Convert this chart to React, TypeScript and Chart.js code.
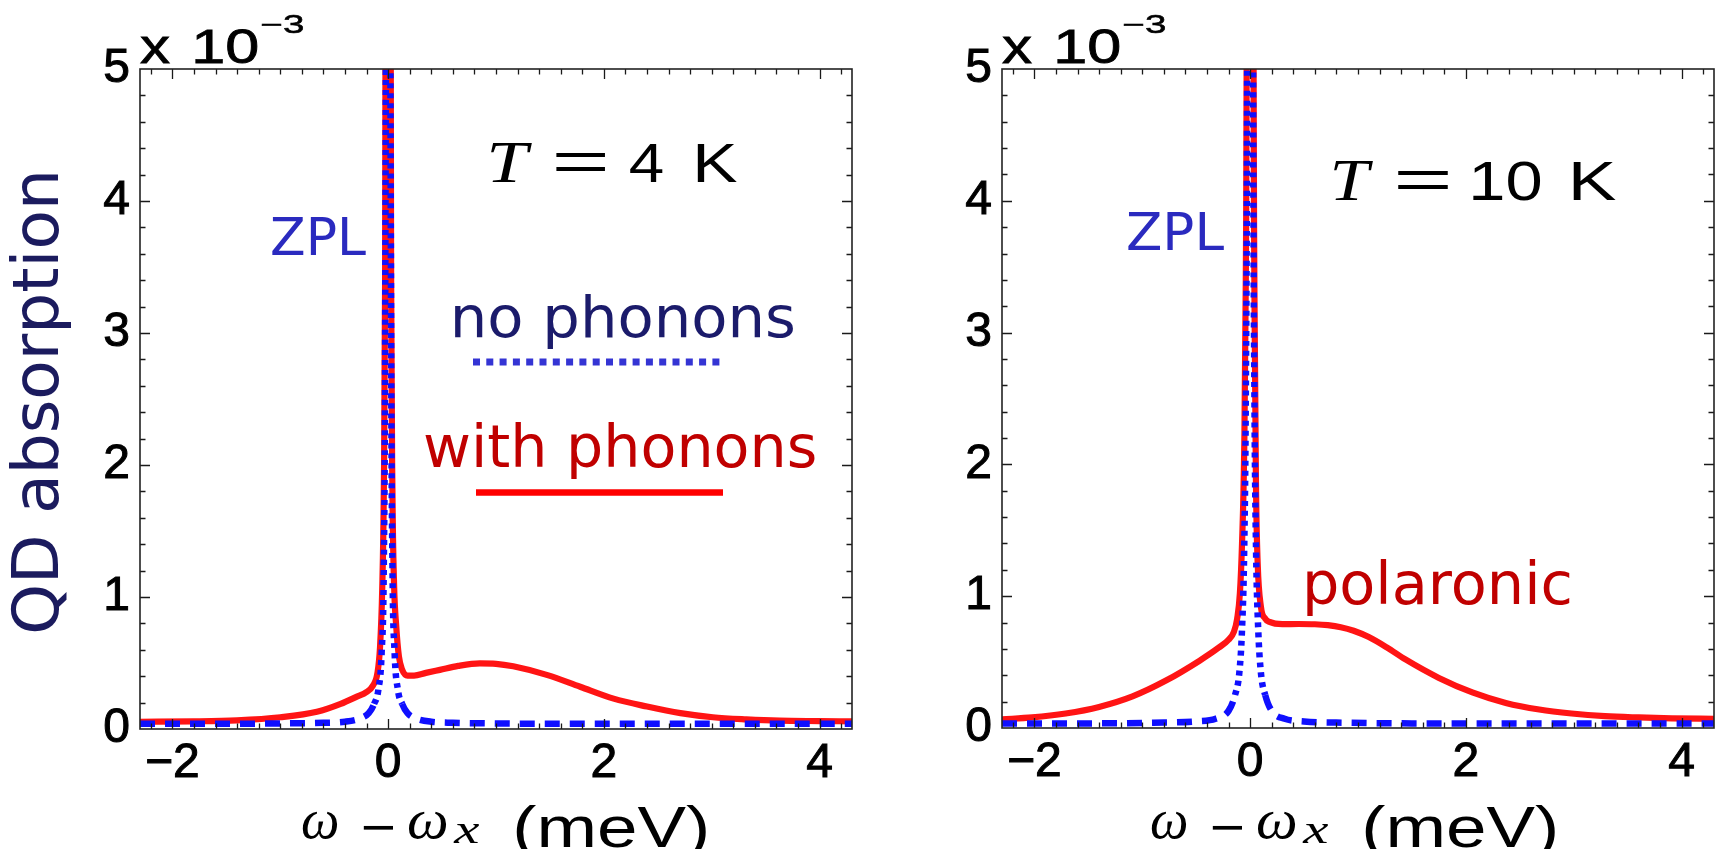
import React, { useEffect, useRef } from 'react';
import { Chart, registerables } from 'chart.js';

Chart.register(...registerables);

// ---------------- data ----------------
const xMin = -2.3;
const xMax = 4.3;
const yMin = 0;
const yMax = 5;
const xTickValues = [-2, 0, 2, 4];
const yTickValues = [0, 1, 2, 3, 4, 5];

// T = 4 K, no phonons (blue dashed)
const x4kNoPhonons = [-2.3, -1.6, -1.0, -0.6, -0.4, -0.26, -0.18, -0.13, -0.09, -0.06, -0.04, -0.028, -0.015, 0, 0.015, 0.028, 0.04, 0.06, 0.09, 0.13, 0.18, 0.26, 0.4, 0.6, 1.0, 1.6, 2.5, 3.4, 4.3];
const y4kNoPhonons = [0.04, 0.04, 0.042, 0.047, 0.055, 0.08, 0.12, 0.19, 0.3, 0.58, 1.25, 2.9, 9, 30, 9, 2.9, 1.25, 0.58, 0.3, 0.19, 0.12, 0.08, 0.055, 0.047, 0.042, 0.04, 0.04, 0.04, 0.04];

// T = 4 K, with phonons (red solid)
const x4kWithPhonons = [-2.3, -1.8, -1.4, -1.0, -0.66, -0.44, -0.29, -0.2, -0.14, -0.1, -0.075, -0.055, -0.04, -0.028, -0.015, 0, 0.015, 0.028, 0.04, 0.055, 0.075, 0.1, 0.13, 0.18, 0.24, 0.35, 0.48, 0.65, 0.85, 1.0, 1.16, 1.47, 1.78, 2.09, 2.4, 2.71, 3.01, 3.32, 3.63, 4.0, 4.3];
const y4kWithPhonons = [0.055, 0.058, 0.066, 0.089, 0.13, 0.19, 0.245, 0.28, 0.33, 0.42, 0.62, 1.05, 1.8, 3.4, 10, 30, 10, 3.4, 1.8, 1.1, 0.78, 0.55, 0.45, 0.405, 0.405, 0.425, 0.448, 0.478, 0.497, 0.494, 0.475, 0.41, 0.32, 0.23, 0.17, 0.12, 0.089, 0.073, 0.063, 0.06, 0.058];

// T = 10 K, no phonons (blue dashed)
const x10kNoPhonons = [-2.3, -1.5, -0.9, -0.5, -0.32, -0.2, -0.14, -0.1, -0.075, -0.055, -0.04, -0.028, -0.015, 0, 0.015, 0.028, 0.04, 0.055, 0.075, 0.1, 0.14, 0.2, 0.32, 0.5, 0.9, 1.5, 2.5, 3.4, 4.3];
const y10kNoPhonons = [0.035, 0.035, 0.04, 0.05, 0.07, 0.13, 0.25, 0.42, 0.75, 1.35, 2.5, 4.8, 12, 30, 12, 4.8, 2.5, 1.35, 0.75, 0.42, 0.25, 0.13, 0.07, 0.05, 0.04, 0.035, 0.035, 0.035, 0.035];

// T = 10 K, with phonons (red solid)
const x10kWithPhonons = [-2.3, -2.02, -1.71, -1.4, -1.09, -0.78, -0.47, -0.29, -0.2, -0.15, -0.12, -0.095, -0.075, -0.055, -0.04, -0.025, 0, 0.025, 0.04, 0.055, 0.07, 0.1, 0.14, 0.18, 0.3, 0.45, 0.6, 0.72, 0.84, 0.96, 1.1, 1.27, 1.44, 1.75, 2.06, 2.37, 2.68, 2.98, 3.29, 3.6, 3.91, 4.3];
const y10kWithPhonons = [0.066, 0.08, 0.11, 0.16, 0.24, 0.36, 0.51, 0.61, 0.67, 0.73, 0.83, 1.02, 1.4, 2.1, 3.4, 7, 30, 7, 3.3, 1.8, 1.25, 0.92, 0.83, 0.805, 0.788, 0.789, 0.787, 0.78, 0.765, 0.738, 0.69, 0.61, 0.52, 0.38, 0.27, 0.19, 0.14, 0.11, 0.09, 0.08, 0.073, 0.07];

// ---------------- styles ----------------
const RED = 'rgb(255,20,20)';
const BLUE = 'rgb(15,15,255)';
const SANS = '"Liberation Sans", Arial, sans-serif';
const DEJAVU = '"DejaVu Sans", Verdana, sans-serif';
const SERIF = '"Liberation Serif", "Times New Roman", serif';
const W = 1718;
const H = 849;

type TextItem = {
  text: string;
  font: string;
  color: string;
  left: number;
  right?: number;
  baseline?: number;
  top?: number;
  stroke?: number;
};

type LegendLine = { x0: number; x1: number; y: number; width: number; color: string; dash: number[] };

type PanelCfg = {
  canvasLeft: number;
  canvasWidth: number;
  area: { left: number; right: number; top: number; bottom: number };
  noX: number[];
  noY: number[];
  withX: number[];
  withY: number[];
  texts: TextItem[];
  legendLines: LegendLine[];
  yTitle: boolean;
};

function drawInk(ctx: CanvasRenderingContext2D, t: TextItem, dx: number) {
  ctx.save();
  ctx.font = t.font;
  ctx.fillStyle = t.color;
  ctx.textAlign = 'left';
  ctx.textBaseline = 'alphabetic';
  const m = ctx.measureText(t.text);
  const w0 = m.actualBoundingBoxLeft + m.actualBoundingBoxRight;
  const sx = t.right !== undefined ? (t.right - t.left) / w0 : 1;
  const base = t.baseline !== undefined ? t.baseline : (t.top as number) + m.actualBoundingBoxAscent;
  ctx.translate(t.left - dx, base);
  ctx.scale(sx, 1);
  ctx.fillText(t.text, m.actualBoundingBoxLeft, 0);
  if (t.stroke) {
    ctx.strokeStyle = t.color;
    ctx.lineWidth = t.stroke;
    ctx.strokeText(t.text, m.actualBoundingBoxLeft, 0);
  }
  ctx.restore();
}

function headerTexts(off: number, tBase: number, tItems: { t: [number, number]; eq: [number, number]; num: [number, number]; k: [number, number]; numText: string }): TextItem[] {
  return [
    { text: 'x', font: `48px ${SANS}`, color: '#000', left: 140 + off, right: 170 + off, baseline: 63, stroke: 0.8 },
    { text: '10', font: `48px ${SANS}`, color: '#000', left: 195 + off, right: 257 + off, baseline: 63, stroke: 0.8 },
    { text: '\u22123', font: `25px ${SANS}`, color: '#000', left: 262 + off, right: 303 + off, baseline: 33, stroke: 0.5 },
    { text: 'T', font: `italic 60px ${SERIF}`, color: '#000', left: tItems.t[0], right: tItems.t[1], baseline: tBase },
    { text: '=', font: `56px ${SANS}`, color: '#000', left: tItems.eq[0], right: tItems.eq[1], top: tBase - 29 },
    { text: tItems.numText, font: `56px ${SANS}`, color: '#000', left: tItems.num[0], right: tItems.num[1], baseline: tBase },
    { text: 'K', font: `56px ${SANS}`, color: '#000', left: tItems.k[0], right: tItems.k[1], baseline: tBase },
  ];
}

function xTitleTexts(off: number): TextItem[] {
  return [
    { text: '\u03c9', font: `italic 56px ${SERIF}`, color: '#000', left: 302 + off, right: 338 + off, baseline: 838 },
    { text: '\u2212', font: `52px ${SANS}`, color: '#000', left: 363 + off, right: 393 + off, top: 825 },
    { text: '\u03c9', font: `italic 56px ${SERIF}`, color: '#000', left: 408 + off, right: 447 + off, baseline: 838 },
    { text: 'x', font: `italic 42px ${SERIF}`, color: '#000', left: 453 + off, right: 480 + off, baseline: 843 },
    { text: '(meV)', font: `58px ${SANS}`, color: '#000', left: 516 + off, right: 706 + off, baseline: 847 },
  ];
}

const panels: PanelCfg[] = [
  {
    canvasLeft: 0,
    canvasWidth: 860,
    area: { left: 140, right: 852, top: 69, bottom: 729 },
    noX: x4kNoPhonons,
    noY: y4kNoPhonons,
    withX: x4kWithPhonons,
    withY: y4kWithPhonons,
    yTitle: true,
    texts: [
      ...headerTexts(0, 182, { t: [490, 532], eq: [555, 605], num: [630, 663], k: [697, 737], numText: '4' }),
      ...xTitleTexts(0),
      { text: 'ZPL', font: `52px ${DEJAVU}`, color: '#2a2abf', left: 272, right: 366, baseline: 255 },
      { text: 'no phonons', font: `57px ${DEJAVU}`, color: '#1b1b6b', left: 455, right: 793, baseline: 337 },
      { text: 'with phonons', font: `58px ${DEJAVU}`, color: '#c00000', left: 425, right: 815, baseline: 467 },
    ],
    legendLines: [
      { x0: 473, x1: 722, y: 362, width: 7, color: '#3434d4', dash: [7, 6.3] },
      { x0: 476, x1: 723, y: 492.5, width: 6.5, color: '#ff0000', dash: [] },
    ],
  },
  {
    canvasLeft: 860,
    canvasWidth: 858,
    area: { left: 1002, right: 1714, top: 69, bottom: 728 },
    noX: x10kNoPhonons,
    noY: y10kNoPhonons,
    withX: x10kWithPhonons,
    withY: y10kWithPhonons,
    yTitle: false,
    texts: [
      ...headerTexts(862, 200, { t: [1333, 1373], eq: [1397, 1448], num: [1473, 1540], k: [1573, 1616], numText: '10' }),
      ...xTitleTexts(849),
      { text: 'ZPL', font: `52px ${DEJAVU}`, color: '#2a2abf', left: 1128, right: 1224, baseline: 250 },
      { text: 'polaronic', font: `58px ${DEJAVU}`, color: '#c00000', left: 1307, right: 1570, baseline: 604 },
    ],
    legendLines: [],
  },
];

function Panel({ cfg }: { cfg: PanelCfg }) {
  const ref = useRef<HTMLCanvasElement | null>(null);
  useEffect(() => {
    const canvas = ref.current;
    if (!canvas) return;
    const dx = cfg.canvasLeft;
    const padRight = cfg.canvasLeft + cfg.canvasWidth - cfg.area.right;
    const yWidth = cfg.area.left - cfg.canvasLeft;
    const xHeight = H - cfg.area.bottom;

    const decorPlugin = {
      id: 'decor',
      afterDatasetsDraw(chart: any) {
        const ctx: CanvasRenderingContext2D = chart.ctx;
        const a = chart.chartArea;
        const xs = chart.scales.x;
        const ys = chart.scales.y;
        ctx.save();
        ctx.strokeStyle = '#1a1a1a';
        ctx.lineWidth = 1.3;
        ctx.beginPath();
        for (let k = -11; k <= 21; k++) {
          const v = Math.round(k * 2) / 10;
          const major = xTickValues.some((t) => Math.abs(t - v) < 1e-6);
          const len = major ? 10 : 5.5;
          const px = Math.round(xs.getPixelForValue(v)) + 0.5;
          ctx.moveTo(px, a.bottom);
          ctx.lineTo(px, a.bottom - len);
          ctx.moveTo(px, a.top);
          ctx.lineTo(px, a.top + len);
        }
        for (let k = 1; k < 25; k++) {
          const v = k / 5;
          const major = yTickValues.some((t) => Math.abs(t - v) < 1e-6);
          const len = major ? 10 : 5.5;
          const py = Math.round(ys.getPixelForValue(v)) + 0.5;
          ctx.moveTo(a.left, py);
          ctx.lineTo(a.left + len, py);
          ctx.moveTo(a.right, py);
          ctx.lineTo(a.right - len, py);
        }
        ctx.stroke();
        ctx.strokeStyle = '#222';
        ctx.lineWidth = 1.6;
        ctx.strokeRect(a.left, a.top, a.right - a.left, a.bottom - a.top);
        ctx.restore();
      },
      afterDraw(chart: any) {
        const ctx: CanvasRenderingContext2D = chart.ctx;
        ctx.save();
        for (const l of cfg.legendLines) {
          ctx.beginPath();
          ctx.strokeStyle = l.color;
          ctx.lineWidth = l.width;
          ctx.lineCap = 'butt';
          ctx.setLineDash(l.dash);
          ctx.moveTo(l.x0 - dx, l.y);
          ctx.lineTo(l.x1 - dx, l.y);
          ctx.stroke();
        }
        ctx.setLineDash([]);
        ctx.restore();
        for (const t of cfg.texts) drawInk(ctx, t, dx);
        if (cfg.yTitle) {
          ctx.save();
          ctx.font = `64px ${DEJAVU}`;
          ctx.fillStyle = '#1b1b5e';
          ctx.textAlign = 'center';
          ctx.textBaseline = 'alphabetic';
          const text = 'QD absorption';
          const m = ctx.measureText(text);
          const w0 = m.actualBoundingBoxLeft + m.actualBoundingBoxRight;
          ctx.translate(58 - dx, 402);
          ctx.rotate(-Math.PI / 2);
          ctx.scale(458 / w0, 1);
          ctx.fillText(text, 0, 0);
          ctx.restore();
        }
      },
    };

    const fmt = (v: any) => {
      const n = Number(v);
      return n < 0 ? '\u2212' + Math.abs(n) : String(n);
    };

    const chart = new Chart(canvas, {
      type: 'line',
      data: {
        datasets: [
          {
            label: 'no phonons',
            data: cfg.noX.map((x, i) => ({ x, y: cfg.noY[i] })),
            borderColor: BLUE,
            borderWidth: 6.5,
            borderDash: [15, 10],
            borderCapStyle: 'butt',
            pointRadius: 0,
            fill: false,
            cubicInterpolationMode: 'monotone',
            order: 0,
            clip: { left: 0, right: 0, top: 0, bottom: 8 } as any,
            segment: {
              borderDash: (c: any) => {
                const ddx = Math.abs(c.p1.x - c.p0.x);
                const ddy = Math.abs(c.p1.y - c.p0.y);
                return ddy > 2.5 * ddx ? [5, 5] : [15, 10];
              },
            },
          },
          {
            label: 'with phonons',
            data: cfg.withX.map((x, i) => ({ x, y: cfg.withY[i] })),
            borderColor: RED,
            borderWidth: 6.2,
            pointRadius: 0,
            fill: false,
            cubicInterpolationMode: 'monotone',
            order: 1,
            clip: { left: 0, right: 0, top: 0, bottom: 8 } as any,
          },
        ],
      },
      options: {
        animation: false,
        responsive: false,
        maintainAspectRatio: false,
        devicePixelRatio: 1,
        layout: { padding: { top: cfg.area.top, right: padRight, left: 0, bottom: 0 } },
        plugins: { legend: { display: false }, tooltip: { enabled: false }, title: { display: false } },
        scales: {
          x: {
            type: 'linear',
            min: xMin,
            max: xMax,
            grid: { display: false, drawTicks: false },
            border: { display: false },
            afterBuildTicks: (s: any) => {
              s.ticks = xTickValues.map((v) => ({ value: v }));
            },
            afterFit: (s: any) => {
              s.height = xHeight;
            },
            ticks: {
              font: { family: SANS, size: 48 },
              color: '#000',
              textStrokeColor: '#000',
              textStrokeWidth: 1,
              padding: 6,
              maxRotation: 0,
              autoSkip: false,
              callback: fmt,
            },
          },
          y: {
            type: 'linear',
            min: yMin,
            max: yMax,
            grid: { display: false, drawTicks: false },
            border: { display: false },
            afterBuildTicks: (s: any) => {
              s.ticks = yTickValues.map((v) => ({ value: v }));
            },
            afterFit: (s: any) => {
              s.width = yWidth;
            },
            ticks: {
              font: { family: SANS, size: 48 },
              color: '#000',
              textStrokeColor: '#000',
              textStrokeWidth: 1,
              padding: 10,
              autoSkip: false,
              callback: fmt,
            },
          },
        },
      } as any,
      plugins: [decorPlugin],
    });
    return () => chart.destroy();
  }, [cfg]);

  return (
    <canvas
      ref={ref}
      width={cfg.canvasWidth}
      height={H}
      style={{ position: 'absolute', left: cfg.canvasLeft, top: 0, width: cfg.canvasWidth, height: H }}
    />
  );
}

export default function App() {
  return (
    <div style={{ position: 'absolute', left: 0, top: 0, width: W, height: H, background: '#fff', overflow: 'hidden' }}>
      {panels.map((p, i) => (
        <Panel key={i} cfg={p} />
      ))}
    </div>
  );
}
